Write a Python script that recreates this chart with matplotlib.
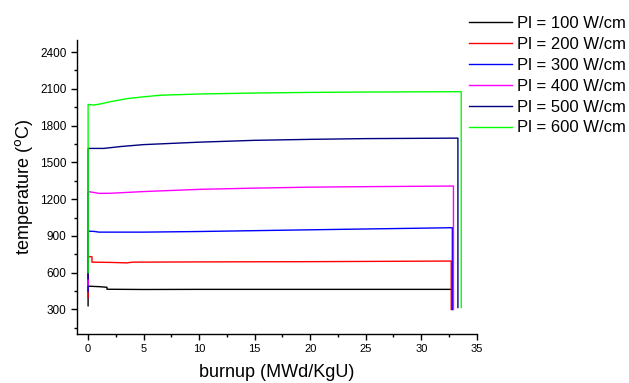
import numpy as np
import matplotlib
matplotlib.use('Agg')
import matplotlib.pyplot as plt
from matplotlib.ticker import MultipleLocator

plt.rcParams['font.family'] = ['Liberation Sans', 'DejaVu Sans']

# Curves (burnup in MWd/KgU, temperature in C)
labels = ['Pl = 100 W/cm', 'Pl = 200 W/cm', 'Pl = 300 W/cm',
          'Pl = 400 W/cm', 'Pl = 500 W/cm', 'Pl = 600 W/cm']
colors = ['#000000', '#ff0000', '#0000ff', '#ff00ff', '#000080', '#00ff00']

x100 = [0, 0, 1.0, 1.7, 1.7, 5, 10, 20, 32.8, 32.8]
t100 = [330, 490, 486, 481, 465, 463, 464, 464, 464, 300]

x200 = [0, 0, 0.35, 0.35, 2, 3.5, 4, 10, 20, 32.7, 32.7]
t200 = [400, 730, 730, 686, 684, 680, 686, 688, 690, 695, 300]

x300 = [0, 0, 0.5, 1, 5, 10, 20, 32.8, 32.8]
t300 = [450, 939, 937, 931, 931, 936, 950, 967, 300]

x400 = [0, 0, 0.3, 1, 2, 5, 10, 15, 20, 25, 32.9, 32.9]
t400 = [500, 1261, 1258, 1247, 1248, 1262, 1280, 1290, 1298, 1302, 1307, 300]

x500 = [0, 0, 1.4, 3, 5, 10, 15, 20, 25, 33.3, 33.3]
t500 = [550, 1614, 1614, 1630, 1645, 1665, 1680, 1688, 1694, 1698, 316]

x600 = [0, 0, 0.5, 1, 2, 3.5, 5, 6.5, 10, 15, 20, 25, 33.6, 33.6]
t600 = [600, 1973, 1968, 1975, 1995, 2020, 2035, 2048, 2058, 2066, 2071, 2074, 2077, 316]

xs = [x100, x200, x300, x400, x500, x600]
ts = [t100, t200, t300, t400, t500, t600]


def main():
    fig = plt.figure(figsize=(6.29, 3.83), dpi=100)
    ax = fig.add_axes([0.1224, 0.128, 0.6356, 0.768])

    for x, t, c, lab in zip(xs, ts, colors, labels):
        ax.plot(x, t, color=c, lw=1.0, label=lab)

    ax.set_xlim(-1, 35)
    ax.set_ylim(100, 2500)
    ax.xaxis.set_major_locator(MultipleLocator(5))
    ax.xaxis.set_minor_locator(MultipleLocator(2.5))
    ax.yaxis.set_major_locator(MultipleLocator(300))
    ax.yaxis.set_minor_locator(MultipleLocator(150))
    ax.set_yticks(np.arange(300, 2401, 300))

    for s in ['top', 'right']:
        ax.spines[s].set_visible(False)
    for s in ['left', 'bottom']:
        ax.spines[s].set_linewidth(1.0)
    ax.tick_params(which='major', direction='out', length=4, width=1.0)
    ax.tick_params(which='minor', direction='out', length=2, width=1.0)
    ax.tick_params(axis='y', labelsize=8.5)
    ax.tick_params(axis='x', labelsize=8)

    ax.set_xlabel('burnup (MWd/KgU)', fontsize=13, labelpad=7)
    ax.set_ylabel('temperature ($^{\\mathrm{o}}$C)', fontsize=13, labelpad=4)

    ax.legend(loc='upper left', bbox_to_anchor=(0.98, 1.08), frameon=False,
              fontsize=12, handlelength=2.58, labelspacing=0.35,
              handletextpad=0.3, borderaxespad=0.0, borderpad=0.0)

    fig.savefig('out.png', dpi=100)


main()
